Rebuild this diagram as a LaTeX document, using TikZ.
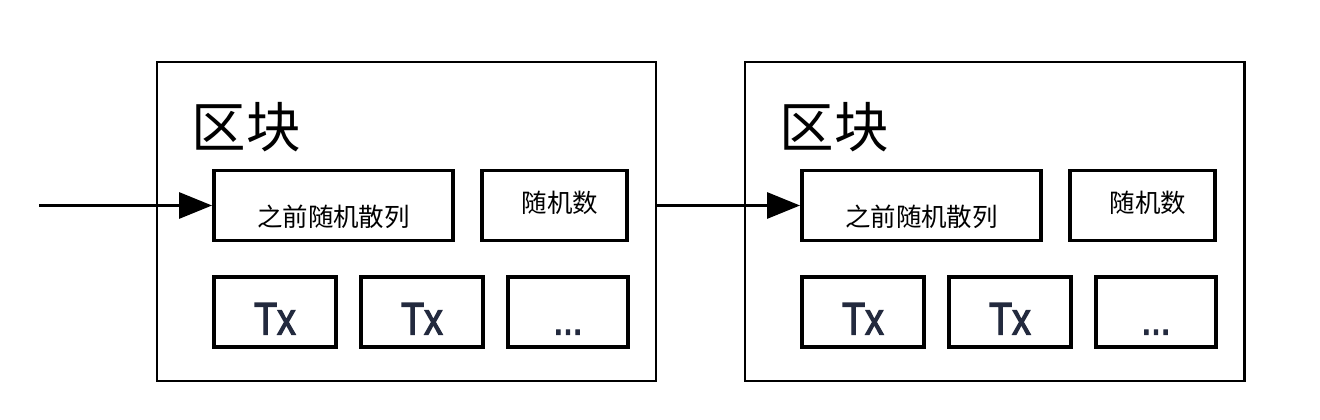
\documentclass[tikz,border=0pt]{standalone}
\usepackage{fontspec}
\newfontfamily\cjk{Noto Sans CJK SC}
\newfontfamily\txfont[FakeStretch=0.82,FakeBold=2.5]{Liberation Sans}
\usetikzlibrary{arrows.meta}
\definecolor{txink}{RGB}{35,42,62}

\begin{document}
\begin{tikzpicture}
\tikzstyle{every node}+=[inner sep=0pt]
\tikzstyle{blk}=[draw, line width=1.7pt, minimum width=9.98cm, minimum height=6.38cm]
\tikzstyle{cell}=[draw, line width=2.2pt, minimum height=1.4cm]
\tikzstyle{ttl}=[font=\cjk\fontsize{31}{31}\selectfont]
\tikzstyle{lbl}=[font=\cjk\fontsize{14.5}{14.5}\selectfont, text depth=0pt]
\tikzstyle{tx}=[font=\txfont\fontsize{26}{26}\selectfont, text=txink, text height=0.9cm, text depth=0pt]
\tikzstyle{link}=[line width=1.7pt, -{Triangle[length=0.66cm,width=0.52cm]}]
\useasboundingbox (0,0) rectangle (26.4,8.4);
\node[blk] (blkA) at (8.13,3.97) {};
\node[ttl] (ttlA) at (4.92,5.86) {区块};
\node[cell,lbl,minimum width=4.78cm,text height=0.86cm] (hashA) at (6.67,4.29) {之前随机散列\hspace{0.26cm}};
\node[cell,lbl,minimum width=2.9cm,text height=0.3cm] (nonceA) at (11.09,4.29) {\hspace{0.22cm}随机数};
\node[cell,tx,minimum width=2.44cm] (txA1) at (5.5,2.16) {Tx};
\node[cell,tx,minimum width=2.44cm] (txA2) at (8.44,2.16) {Tx};
\node[cell,tx,minimum width=2.4cm,font=\txfont\fontsize{24}{24}\selectfont] (moreA) at (11.36,2.16) {...};
\node[blk] (blkB) at (19.89,3.97) {};
\node[ttl] (ttlB) at (16.68,5.86) {区块};
\node[cell,lbl,minimum width=4.78cm,text height=0.86cm] (hashB) at (18.43,4.29) {之前随机散列\hspace{0.26cm}};
\node[cell,lbl,minimum width=2.9cm,text height=0.3cm] (nonceB) at (22.85,4.29) {\hspace{0.22cm}随机数};
\node[cell,tx,minimum width=2.44cm] (txB1) at (17.26,2.16) {Tx};
\node[cell,tx,minimum width=2.44cm] (txB2) at (20.2,2.16) {Tx};
\node[cell,tx,minimum width=2.4cm,font=\txfont\fontsize{24}{24}\selectfont] (moreB) at (23.12,2.16) {...};
\coordinate (start) at (0.78,4.29);
\draw[link] (start) -- (hashA);
\draw[link] (blkA.east |- hashB) -- (hashB);
\end{tikzpicture}
\end{document}
